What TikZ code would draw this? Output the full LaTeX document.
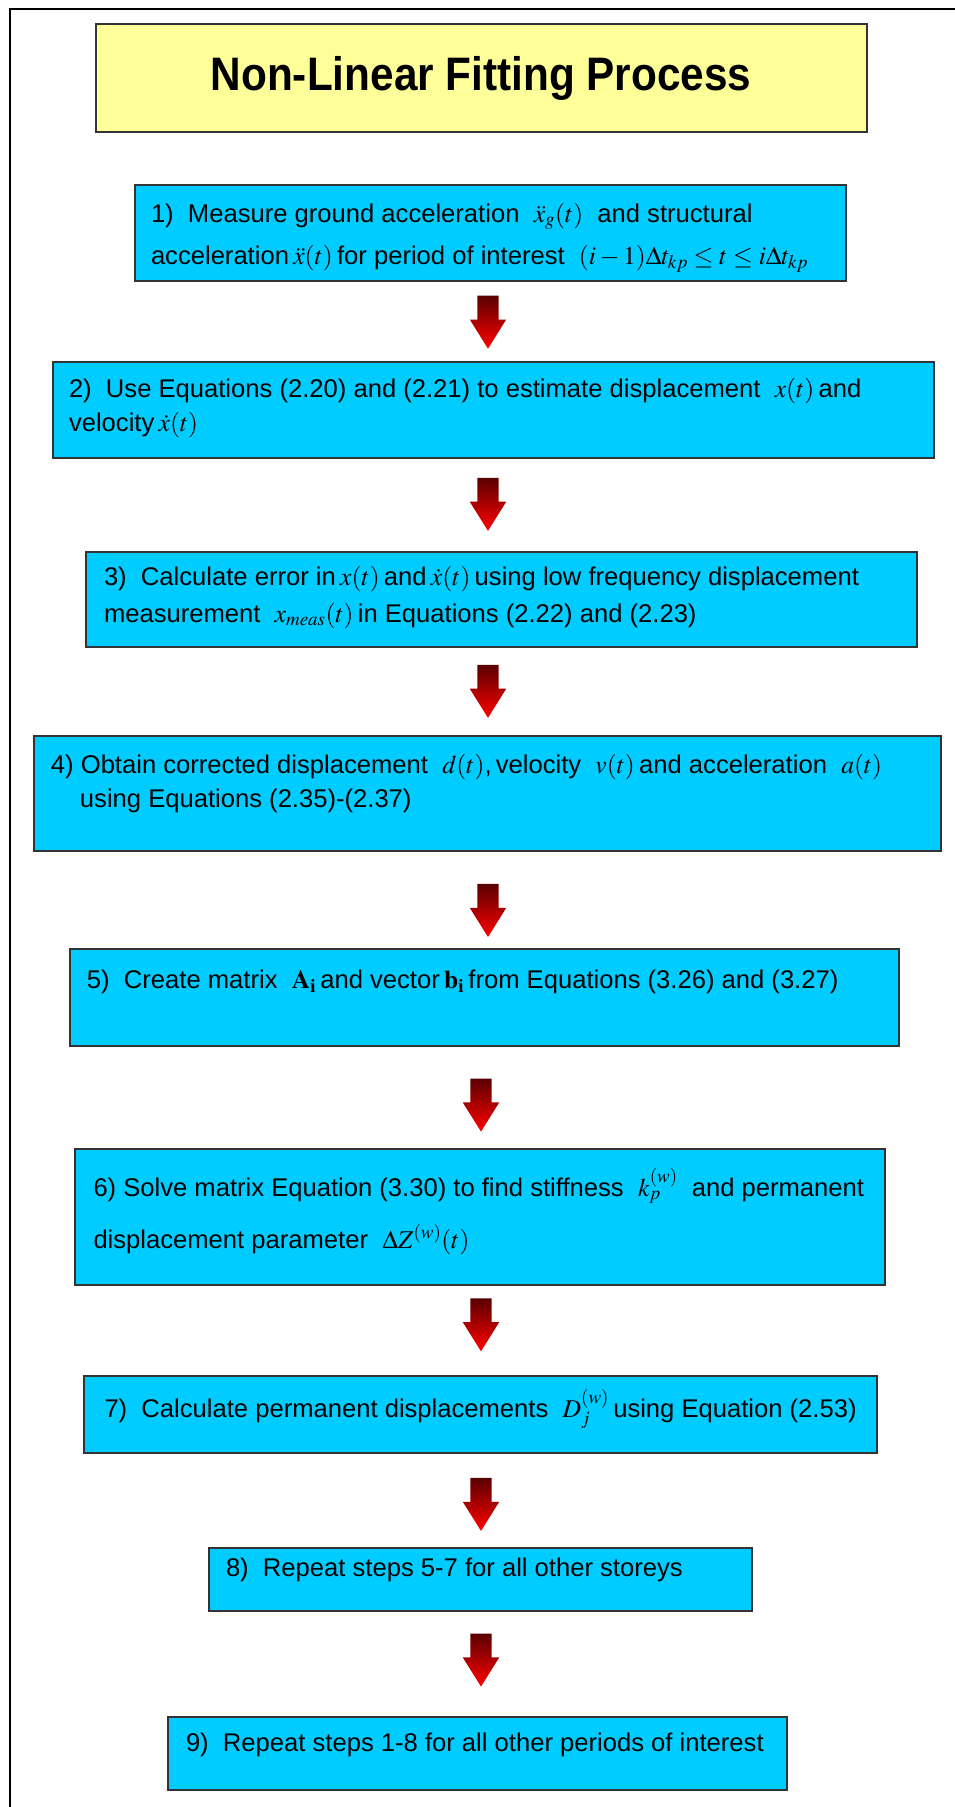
\documentclass[tikz,border=0pt]{standalone}
\usepackage{mathptmx}
\usepackage[no-math]{fontspec}
\setmainfont{Liberation Sans}
\newfontfamily\titlefont[FakeStretch=0.9]{Liberation Sans}
\usetikzlibrary{shapes.arrows,positioning}
\definecolor{boxcyan}{HTML}{00CCFF}
\definecolor{titleyellow}{HTML}{FFFF99}
\definecolor{arrowdark}{HTML}{5A0000}
\definecolor{edgegray}{HTML}{333333}

% step text: width, height, left pad, first baseline, line step, text
\newcommand{\steptext}[6]{\parbox[c][#2pt][t]{#1pt}{\fontsize{25.6}{#5}\selectfont
  \leftskip=#3pt\rightskip=0pt plus 1fil\parindent=0pt\lineskiplimit=-30pt
  \rule{0pt}{#4pt}#6\par}}

\begin{document}
\begin{tikzpicture}[x=1pt,y=-1pt,
    stepbox/.style={draw=edgegray,line width=2pt,fill=boxcyan,inner sep=0pt},
    titlebox/.style={draw=edgegray,line width=2pt,fill=titleyellow,inner sep=0pt,
      minimum width=771pt,minimum height=108pt,font=\fontsize{47}{47}\selectfont\titlefont\bfseries},
    downarrow/.style={single arrow,shape border rotate=270,draw=none,
      inner xsep=10.5pt,inner ysep=0pt,
      minimum height=53pt,minimum width=36pt,single arrow head extend=7.5pt,
      single arrow tip angle=64,single arrow head indent=0pt,
      top color=arrowdark,middle color=red,bottom color=red}]
\useasboundingbox (0,0) rectangle (954,1807);
\draw[line width=2pt] (10,1830) -- (10,9) -- (960,9);

\node[titlebox] (title) at (481,78) {Non-Linear Fitting Process};

\node[stepbox] (s1) at (490.5,233) {\steptext{711}{96}{16}{37}{42}{1)\ \ Measure ground acceleration\ \ $\ddot{x}_g(t)$\ \ and structural\\acceleration\,$\ddot{x}(t)$\,for period of interest\ \ $(i-1)\Delta t_{kp}\le t\le i\Delta t_{kp}$}};
\node[stepbox] (s2) at (493.5,410) {\steptext{881}{96}{16}{35}{34}{2)\ \ Use Equations (2.20) and (2.21) to estimate displacement\ \ $x(t)$\,and\\velocity\,$\dot{x}(t)$}};
\node[stepbox] (s3) at (501.5,599.5) {\steptext{831}{95}{18}{33}{37}{3)\ \ Calculate error in\,$x(t)$\,and\,$\dot{x}(t)$\,using low frequency displacement\\measurement\ \ $x_{meas}(t)$\,in Equations (2.22) and (2.23)}};
\node[stepbox] (s4) at (487.5,793.5) {\steptext{907}{115}{17}{37}{34}{4) Obtain corrected displacement\ \ $d(t)$,\,velocity\ \ $v(t)$\,and acceleration\ \ $a(t)$\\\hspace*{29pt}using Equations (2.35)-(2.37)}};
\node[stepbox] (s5) at (484.5,997.5) {\steptext{829}{97}{17}{39}{30}{5)\ \ Create matrix\ \ $\mathbf{A}_{\mathbf{i}}$\,and vector\,$\mathbf{b}_{\mathbf{i}}$\,from Equations (3.26) and (3.27)}};
\node[stepbox] (s6) at (480,1217) {\steptext{810}{136}{18.5}{47}{52}{6) Solve matrix Equation (3.30) to find stiffness\ \ $k_p^{(w)}$\ \ and permanent\\displacement parameter\ \ $\Delta Z^{(w)}(t)$}};
\node[stepbox] (s7) at (480.5,1414.5) {\steptext{793}{77}{20.5}{41}{30}{7)\ \ Calculate permanent displacements\ \ $D_j^{(w)}$\,using Equation (2.53)}};
\node[stepbox] (s8) at (480.5,1579.5) {\steptext{543}{63}{17}{28}{30}{8)\ \ Repeat steps 5-7 for all other storeys}};
\node[stepbox] (s9) at (477.5,1753.5) {\steptext{619}{73}{18}{34}{30}{9)\ \ Repeat steps 1-8 for all other periods of interest}};

% arrows between the steps
\coordinate (axa) at (488,0);
\coordinate (axb) at (481,0);
\foreach \a/\b/\ax/\p in {s1/s2/axa/0.40,s2/s3/axa/0.40,s3/s4/axa/0.40,s4/s5/axa/0.52,
    s5/s6/axb/0.49,s6/s7/axb/0.34,s7/s8/axb/0.45,s8/s9/axb/0.38}
  \path (\a.south -| \ax) -- (\b.north -| \ax) node[pos=\p,downarrow] {};
\end{tikzpicture}
\end{document}
